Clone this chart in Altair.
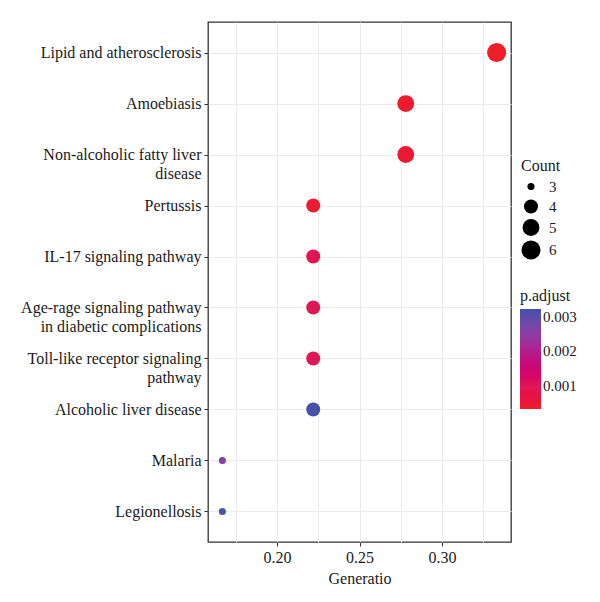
import altair as alt
import pandas as pd

terms = [
    "Lipid and atherosclerosis",
    "Amoebiasis",
    "Non-alcoholic fatty liver|disease",
    "Pertussis",
    "IL-17 signaling pathway",
    "Age-rage signaling pathway|in diabetic complications",
    "Toll-like receptor signaling|pathway",
    "Alcoholic liver disease",
    "Malaria",
    "Legionellosis",
]
gene_ratio = [0.333, 0.278, 0.278, 0.222, 0.222, 0.222, 0.222, 0.222, 0.167, 0.167]
counts = [6, 5, 5, 4, 4, 4, 4, 4, 3, 3]
p_adjust = [0.00035, 0.0004, 0.00048, 0.00042, 0.00095, 0.001, 0.001, 0.0032, 0.0026, 0.0032]

df = pd.DataFrame({"Term": terms, "GeneRatio": gene_ratio, "Count": counts, "padj": p_adjust})

FONT = "Liberation Serif"

minor_test = "round(datum.value*1000) % 50 != 0"

chart = alt.Chart(df).mark_circle(opacity=1).encode(
    x=alt.X(
        "GeneRatio:Q",
        title="Generatio",
        scale=alt.Scale(domain=[0.1583, 0.3417], nice=False, zero=False),
        axis=alt.Axis(
            values=[0.175, 0.2, 0.225, 0.25, 0.275, 0.3, 0.325],
            labelExpr="round(datum.value*1000) % 50 == 0 ? format(datum.value, '.2f') : ''",
            tickOpacity={"condition": {"test": minor_test, "value": 0}, "value": 1},
            labelPadding=3,
            titlePadding=5,
        ),
    ),
    y=alt.Y(
        "Term:N",
        title=None,
        sort=terms,
        scale=alt.Scale(type="point", padding=0.6),
        axis=alt.Axis(labelExpr="split(datum.label, '|')", labelLineHeight=19, labelPadding=3,
                      grid=True, labelLimit=240),
    ),
    size=alt.Size(
        "Count:Q",
        scale=alt.Scale(domain=[3, 4, 5, 6], range=[50, 196, 284, 363]),
        legend=alt.Legend(
            values=[3, 4, 5, 6],
            format="d",
            orient="none",
            legendX=313,
            legendY=136,
            symbolFillColor="black",
            symbolStrokeWidth=0,
            symbolType="circle",
            titleFontSize=16,
            labelFontSize=15,
            labelOffset=8,
            rowPadding=4,
        ),
    ),
    color=alt.Color(
        "padj:Q",
        title="p.adjust",
        scale=alt.Scale(
            domain=[0.00033, 0.001, 0.002, 0.00323],
            range=["#EE2027", "#DF1758", "#B31C8C", "#4352A8"],
        ),
        legend=alt.Legend(
            values=[0.001, 0.002, 0.003],
            orient="none",
            legendX=312,
            legendY=266,
            gradientLength=100,
            gradientThickness=21,
            gradientStrokeWidth=0,
            titleFontSize=16,
            labelFontSize=15,
            format=".3f",
        ),
    ),
).properties(
    width=303,
    height=520,
    padding={"left": 208, "top": 22, "right": 89, "bottom": 60},
    autosize=alt.AutoSizeParams(type="none"),
).configure_view(
    stroke="#333333", strokeWidth=1.3
).configure_axis(
    domain=False,
    gridColor="#EBEBEB",
    gridWidth=1,
    tickColor="#333333",
    tickSize=4,
    labelFont=FONT,
    labelFontSize=16,
    labelColor="#1a1a1a",
    titleFont=FONT,
    titleFontSize=16,
    titleFontWeight="normal",
    titleColor="#1a1a1a",
).configure_legend(
    titleFont=FONT,
    labelFont=FONT,
    titleFontWeight="normal",
    titleColor="#1a1a1a",
    labelColor="#1a1a1a",
)

chart.save("out.html", embed_options={"renderer": "svg", "actions": False})
